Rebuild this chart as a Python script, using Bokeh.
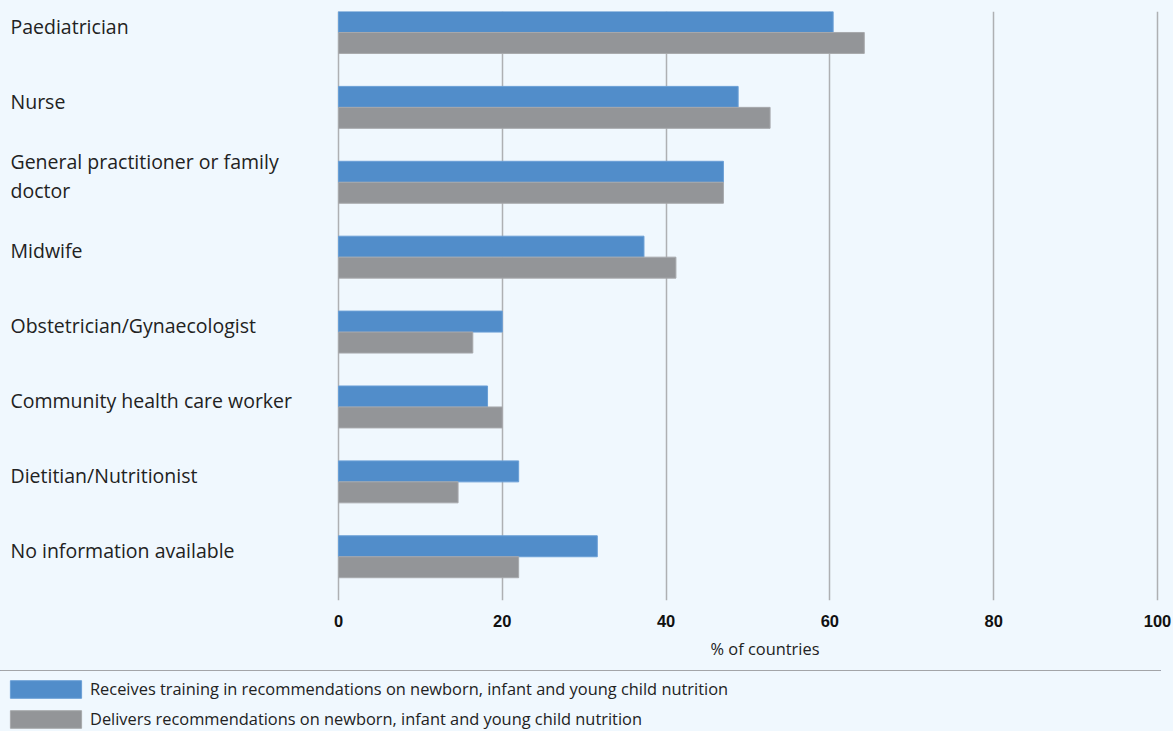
from bokeh.plotting import figure
from bokeh.layouts import column
from bokeh.models import (ColumnDataSource, Range1d, FixedTicker, Legend, LegendItem, Title)
from bokeh.transform import dodge
from bokeh.core.properties import value
from bokeh.embed import file_html
from bokeh.resources import INLINE

categories = [
    "Paediatrician",
    "Nurse",
    "General practitioner or family\ndoctor",
    "Midwife",
    "Obstetrician/Gynaecologist",
    "Community health care worker",
    "Dietitian/Nutritionist",
    "No information available",
]
training = [60.4, 48.8, 47.0, 37.3, 20.0, 18.2, 22.0, 31.6]
delivers = [64.2, 52.7, 47.0, 41.2, 16.4, 20.0, 14.6, 22.0]
x_ticks = [0, 20, 40, 60, 80, 100]
series_labels = [
    "Receives training in recommendations on newborn, infant and young child nutrition",
    "Delivers recommendations on newborn, infant and young child nutrition",
]
x_title = "% of countries"

BG = "#f0f8fe"
BLUE = "#518dca"
BLUE_EDGE = "#6a9fd6"
GREY = "#939598"
GREY_EDGE = "#a7a9ac"
TXT = "#222222"

src = ColumnDataSource(dict(
    idx=list(range(len(categories))),
    cat=categories,
    training=training,
    delivers=delivers,
))

W = 1173
H1 = 668
H2 = 63

p = figure(
    width=W, height=H1,
    x_range=Range1d(-41.27, 100.37),
    y_range=Range1d(7.584, -0.28),
    output_backend="svg", toolbar_location=None,
    min_border_left=0, min_border_right=13, min_border_top=11, min_border_bottom=68,
)
p.background_fill_color = BG
p.border_fill_color = BG
p.outline_line_color = None

bh = 0.28
p.hbar(y=dodge("idx", -bh / 2), right="training", left=0, height=bh, source=src,
       fill_color=BLUE, line_color=BLUE_EDGE, line_width=1)
p.hbar(y=dodge("idx", bh / 2), right="delivers", left=0, height=bh, source=src,
       fill_color=GREY, line_color=GREY_EDGE, line_width=1)

# category labels, left-aligned at the left edge
p.text(x=-40.05, y=dodge("idx", -0.085), text="cat", source=src,
       text_align="left", text_baseline="middle", text_line_height=1.05,
       text_font=value("Open Sans"), text_font_size="19.5px", text_color=TXT)

# axes
p.yaxis.visible = False
p.ygrid.grid_line_color = None
p.xaxis.ticker = FixedTicker(ticks=x_ticks)
p.xgrid.ticker = FixedTicker(ticks=x_ticks)
p.xgrid.grid_line_color = "#aeb0b3"
p.xgrid.grid_line_width = 1.5
p.xaxis.axis_line_color = None
p.xaxis.major_tick_line_color = None
p.xaxis.minor_tick_line_color = None
p.xaxis.major_tick_out = 0
p.xaxis.major_tick_in = 0
p.xaxis.major_label_standoff = 14
p.xaxis.major_label_text_font = "Liberation Sans"
p.xaxis.major_label_text_font_style = "bold"
p.xaxis.major_label_text_font_size = "16.5px"
p.xaxis.major_label_text_color = "#111111"

t = Title(text=x_title, align="left", offset=710, standoff=11,
          text_font="Open Sans", text_font_style="normal", text_font_size="16.4px",
          text_color=TXT)
p.add_layout(t, "below")

# legend panel underneath (its renderers sit outside the visible range)
lg = figure(
    width=W, height=H2, x_range=Range1d(0, 1), y_range=Range1d(-100, -99),
    x_axis_type=None, y_axis_type=None,
    output_backend="svg", toolbar_location=None,
    min_border_left=0, min_border_right=2, min_border_top=2, min_border_bottom=0,
)
lg.background_fill_color = BG
lg.border_fill_color = BG
lg.outline_line_color = None
lg.outline_line_alpha = 0
lg.outline_line_width = 0
lg.grid.visible = False
lr1 = lg.hbar(y="idx", right="training", left=0, height=0.5, source=src,
              fill_color=BLUE, line_color=BLUE_EDGE)
lr2 = lg.hbar(y="idx", right="delivers", left=0, height=0.5, source=src,
              fill_color=GREY, line_color=GREY_EDGE)

legend = Legend(items=[LegendItem(label=series_labels[0], renderers=[lr1]),
                       LegendItem(label=series_labels[1], renderers=[lr2])],
                location=(1, 1), orientation="vertical",
                glyph_width=89, glyph_height=22, label_height=22, label_standoff=0,
                spacing=7, padding=0, margin=0,
                border_line_color=None, border_line_alpha=0,
                background_fill_alpha=0,
                label_text_font="Open Sans", label_text_font_size="16.4px",
                label_text_color=TXT)
lg.add_layout(legend, "center")

layout = column(p, lg, spacing=0)
layout.styles = {"background-color": BG}

html = file_html(layout, INLINE)
html = html.replace("<head>", "<head><style>html, body { background: %s; }</style>" % BG, 1)
open("out.html", "w").write(html)
